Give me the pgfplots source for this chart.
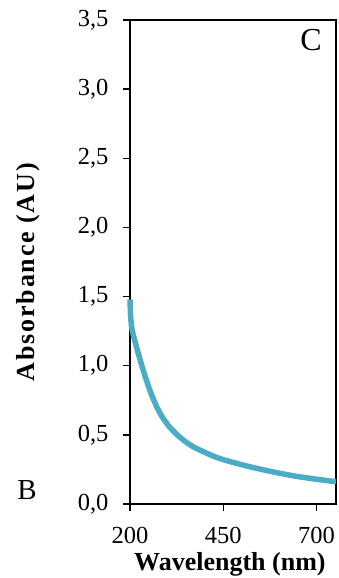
\documentclass[border=0pt]{standalone}
\usepackage{pgfplots}
\pgfplotsset{compat=1.18}
\usepackage{fontspec}
\setmainfont{Liberation Serif}
\definecolor{spectrum}{RGB}{75,172,198}

\begin{document}
\begin{tikzpicture}
\useasboundingbox (-130pt,-74pt) rectangle (209pt,504pt);
\begin{axis}[
  scale only axis,
  width=206pt, height=484pt,
  xmin=200, xmax=752,
  ymin=0, ymax=3.5,
  xtick={200,450,700},
  ytick={0,0.5,...,3.5},
  axis line style={line width=1.3pt},
  tick style={line width=1.3pt, black},
  tick align=outside,
  xtick pos=bottom, ytick pos=left,
  major tick length=7pt,
  clip=false,
  /pgf/number format/assume math mode=true,
  yticklabel style={xshift=-11pt, /pgf/number format/.cd, use comma, fixed, fixed zerofill, precision=1},
  xticklabel style={yshift=-13pt},
  ticklabel style={font=\fontsize{24.5}{28}\selectfont},
  xlabel={Wavelength (nm)},
  ylabel={\addfontfeature{LetterSpace=7}Absorbance (AU)},
  label style={font=\fontsize{26}{30}\selectfont\bfseries},
  xlabel style={at={(axis description cs:0.485,-0.124)}, anchor=center},
  ylabel style={at={(axis description cs:-0.495,0.479)}, anchor=center},
]
\addplot[spectrum, line width=5.5pt, smooth, tension=0.3] coordinates {
  (200,1.48) (201,1.40) (202,1.345) (204,1.29) (206,1.255) (210,1.21)
  (215,1.16) (220,1.11) (228,1.035) (238,0.945) (249,0.855) (260,0.775)
  (273,0.695) (287,0.627) (305,0.560) (327,0.499) (350,0.448) (372,0.410)
  (400,0.374) (426,0.343) (452,0.319) (480,0.298) (520,0.270) (558,0.247)
  (600,0.223) (648,0.199) (700,0.179) (752,0.161)
};
\node[font=\fontsize{32}{36}\selectfont] at (axis description cs:0.879,0.959) {C};
\node[font=\fontsize{29}{33}\selectfont] at (axis description cs:-0.5,0.029) {B};
\end{axis}
\end{tikzpicture}
\end{document}
